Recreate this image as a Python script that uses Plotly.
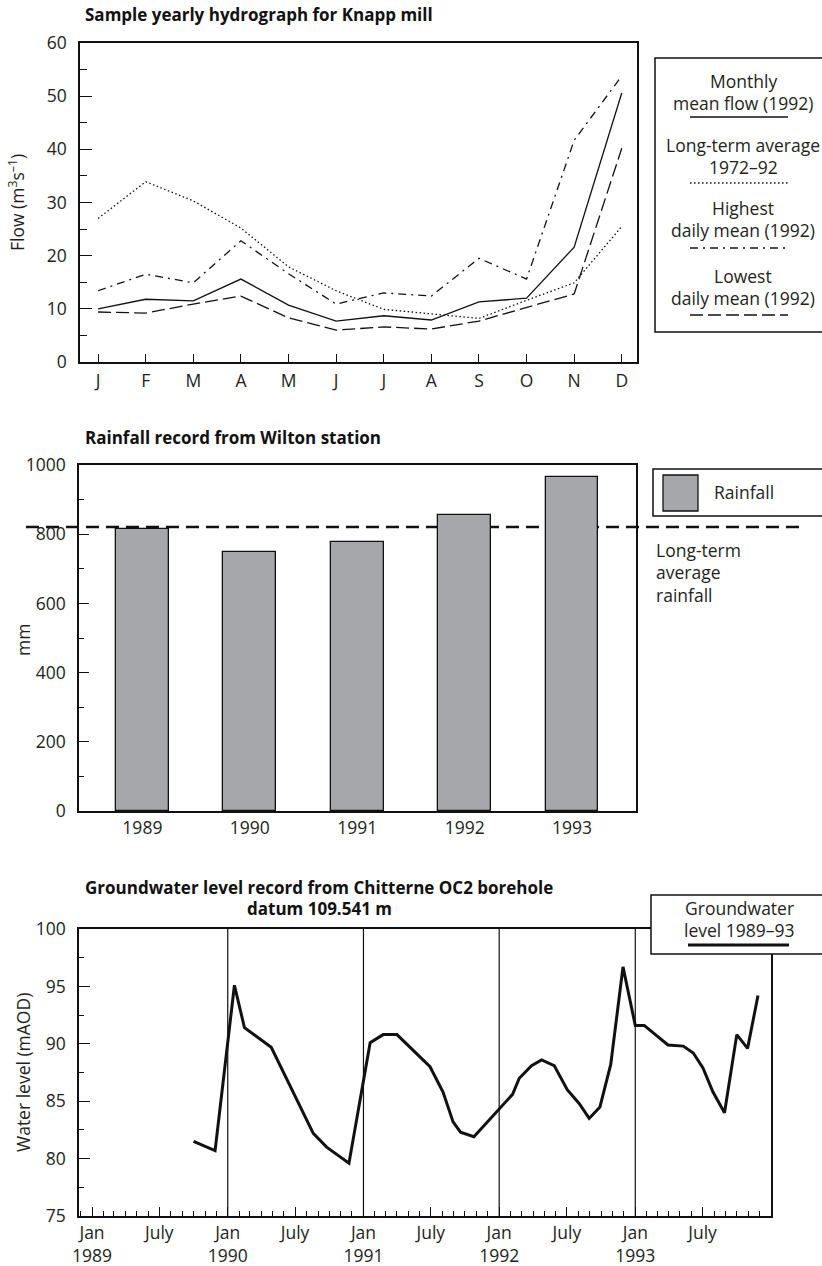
import plotly.graph_objects as go

W, H = 822, 1266
FONT = "Open Sans"
TXT = "#231f20"
FS = 17.5      # regular text size
FT = 17        # bold title size

def px(x):
    return x / W

def py(y):
    return 1 - y / H

# ---------------- data ----------------
months = ["J", "F", "M", "A", "M", "J", "J", "A", "S", "O", "N", "D"]
monthly_mean_1992 = [10.0, 11.8, 11.5, 15.6, 10.7, 7.7, 8.7, 7.9, 11.3, 12.0, 21.6, 50.6]
long_term_avg = [27.0, 33.9, 30.3, 25.2, 17.9, 13.4, 9.9, 9.0, 8.2, 11.6, 14.9, 25.5]
highest_daily = [13.4, 16.5, 14.9, 22.8, 16.6, 10.9, 13.0, 12.4, 19.5, 15.6, 41.7, 53.8]
lowest_daily = [9.4, 9.2, 10.9, 12.4, 8.3, 6.0, 6.6, 6.2, 7.7, 10.3, 12.8, 40.2]

rain_years = ["1989", "1990", "1991", "1992", "1993"]
rainfall_mm = [815, 749, 777, 855, 965]
rain_long_term_avg = 821

gw_dates = ["1989-10-01", "1989-11-28", "1990-01-19", "1990-02-15", "1990-04-28",
            "1990-08-19", "1990-09-24", "1990-11-23", "1991-01-19", "1991-02-23",
            "1991-04-01", "1991-06-29", "1991-08-03", "1991-08-30", "1991-09-19",
            "1991-10-25", "1992-02-06", "1992-02-24", "1992-03-28", "1992-04-24",
            "1992-05-28", "1992-07-02", "1992-08-03", "1992-08-30", "1992-09-28",
            "1992-10-27", "1992-11-29", "1993-01-01", "1993-01-25", "1993-03-30",
            "1993-05-10", "1993-06-06", "1993-07-02", "1993-07-29", "1993-08-29",
            "1993-10-01", "1993-10-30", "1993-11-27"]
gw_level = [81.5, 80.7, 95.1, 91.4, 89.7,
            82.2, 81.0, 79.6, 90.1, 90.8,
            90.8, 88.0, 85.8, 83.2, 82.3,
            81.9, 85.6, 87.0, 88.1, 88.6,
            88.1, 86.0, 84.8, 83.5, 84.5,
            88.2, 96.7, 91.6, 91.6, 89.9,
            89.8, 89.2, 87.9, 85.8, 84.0,
            90.8, 89.6, 94.2]
year_lines = ["1990-01-01", "1991-01-01", "1992-01-01", "1993-01-01"]
gw_years = [1989, 1990, 1991, 1992, 1993]

# ---------------- figure ----------------
fig = go.Figure()

# Chart 1 lines
fig.add_trace(go.Scatter(x=list(range(12)), y=monthly_mean_1992, mode="lines",
                         line=dict(color="#111", width=1.3), xaxis="x", yaxis="y",
                         name="Monthly mean flow (1992)"))
fig.add_trace(go.Scatter(x=list(range(12)), y=long_term_avg, mode="lines",
                         line=dict(color="#111", width=1.3, dash="1.5px,2.5px"),
                         xaxis="x", yaxis="y", name="Long-term average 1972–92"))
fig.add_trace(go.Scatter(x=list(range(12)), y=highest_daily, mode="lines",
                         line=dict(color="#111", width=1.3, dash="8px,5px,2px,5px"),
                         xaxis="x", yaxis="y", name="Highest daily mean (1992)"))
fig.add_trace(go.Scatter(x=list(range(12)), y=lowest_daily, mode="lines",
                         line=dict(color="#111", width=1.3, dash="13px,5px"),
                         xaxis="x", yaxis="y", name="Lowest daily mean (1992)"))

# Chart 2 bars
fig.add_trace(go.Bar(x=rain_years, y=rainfall_mm, width=0.49,
                     marker=dict(color="#a6a7aa", line=dict(color="#111", width=1.3)),
                     xaxis="x2", yaxis="y2", name="Rainfall"))

# Chart 3 line
fig.add_trace(go.Scatter(x=gw_dates, y=gw_level, mode="lines",
                         line=dict(color="#111", width=3), xaxis="x3", yaxis="y3",
                         name="Groundwater level 1989–93"))

axis_common = dict(showline=True, linecolor="#111", linewidth=1.5, mirror=True,
                   showgrid=False, zeroline=False, automargin=False,
                   tickfont=dict(family=FONT, size=FS, color=TXT),
                   tickcolor="#111")

# Chart 3 ticks: labelled Jan / July, unlabelled quarter ticks on an overlay axis
lab_vals, lab_text, q_vals = [], [], []
for yr in gw_years:
    lab_vals += [f"{yr}-01-01", f"{yr}-07-01"]
    lab_text += [f"Jan<br>{yr}", "July"]
    q_vals += [f"{yr}-04-01", f"{yr}-10-01"]

x3_range = ["1988-11-27", "1994-01-01"]

fig.update_layout(
    width=W, height=H,
    margin=dict(l=0, r=0, t=0, b=0),
    paper_bgcolor="white", plot_bgcolor="white",
    showlegend=False,
    font=dict(family=FONT, color=TXT),
    bargap=0,
    xaxis=dict(axis_common, domain=[px(80), px(637)], range=[-0.38, 11.32],
               tickmode="array", tickvals=list(range(12)), ticktext=months,
               ticks="inside", ticklen=8, tickwidth=1.3, anchor="y",
               ticklabelstandoff=2),
    yaxis=dict(axis_common, domain=[py(362), py(43)], range=[0, 60],
               dtick=10, ticks="inside", ticklen=12, tickwidth=1.3, anchor="x",
               ticklabelstandoff=8,
               minor=dict(dtick=5, ticks="inside", ticklen=7, tickwidth=1.3, tickcolor="#111")),
    xaxis2=dict(axis_common, domain=[px(79), px(636)], type="category",
                range=[-0.59, 4.595], ticks="", anchor="y2"),
    yaxis2=dict(axis_common, domain=[py(811), py(465)], range=[0, 1000],
                dtick=200, ticks="inside", ticklen=10, tickwidth=1.3, anchor="x2",
                ticklabelstandoff=8,
                minor=dict(dtick=100, ticks="inside", ticklen=5, tickwidth=1.3, tickcolor="#111")),
    xaxis3=dict(axis_common, domain=[px(79), px(771)], type="date",
                range=x3_range,
                tickmode="array", tickvals=lab_vals, ticktext=lab_text,
                ticks="inside", ticklen=9, tickwidth=1.3, anchor="y3",
                minor=dict(dtick="M1", tick0="1989-01-01", ticks="inside", ticklen=5,
                           tickwidth=1.3, tickcolor="#111")),
    xaxis4=dict(domain=[px(79), px(771)], type="date", range=x3_range,
                overlaying="x3", anchor="y3", side="bottom",
                tickmode="array", tickvals=q_vals, showticklabels=False,
                ticks="inside", ticklen=9, tickwidth=1.3, tickcolor="#111",
                showline=False, showgrid=False, zeroline=False, automargin=False),
    yaxis3=dict(axis_common, domain=[py(1216), py(929)], range=[75, 100],
                dtick=5, ticks="inside", ticklen=11, tickwidth=1.3, anchor="x3",
                ticklabelstandoff=8,
                minor=dict(dtick=2.5, ticks="inside", ticklen=5, tickwidth=1.3, tickcolor="#111")),
)

shapes = []
annots = []

def text(x, y, s, size=FS, bold=False, xanchor="center"):
    annots.append(dict(x=px(x), y=py(y), xref="paper", yref="paper", text=s,
                       showarrow=False, xanchor=xanchor, yanchor="middle",
                       font=dict(family=FONT, size=size, color="#111" if bold else TXT,
                                 weight="bold" if bold else "normal")))

def hline(x0, x1, y, dash="solid", width=1.3):
    shapes.append(dict(type="line", xref="paper", yref="paper", x0=px(x0), x1=px(x1),
                       y0=py(y), y1=py(y), line=dict(color="#111", width=width, dash=dash)))

def box(x0, y0, x1, y1, fill="white", width=1.5):
    shapes.append(dict(type="rect", xref="paper", yref="paper", x0=px(x0), x1=px(x1),
                       y0=py(y1), y1=py(y0), fillcolor=fill, line=dict(color="#111", width=width),
                       layer="above"))

# Titles
text(83, 14, "Sample yearly hydrograph for Knapp mill", size=FT, bold=True, xanchor="left")
text(83, 437, "Rainfall record from Wilton station", size=FT, bold=True, xanchor="left")
text(319, 887, "Groundwater level record from Chitterne OC2 borehole", size=FT, bold=True)
text(319, 908, "datum 109.541 m", size=FT, bold=True)

# Axis titles (rotated)
for x, y, s in [(17, 203, "Flow (m<sup>3</sup>s<sup>–1</sup>)"), (23, 640, "mm"),
                (23, 1073, "Water level (mAOD)")]:
    annots.append(dict(x=px(x), y=py(y), xref="paper", yref="paper", text=s, textangle=-90,
                       showarrow=False, xanchor="center", yanchor="middle",
                       font=dict(family=FONT, size=FS, color=TXT)))

# Chart 1 legend
box(655, 58, 832, 332)
text(743, 81, "Monthly")
text(743, 103, "mean flow (1992)")
hline(690, 788, 117)
text(743, 145, "Long-term average")
text(743, 167, "1972–92")
hline(690, 788, 183, dash="1.5px,2.5px")
text(743, 208, "Highest")
text(743, 230, "daily mean (1992)")
hline(690, 788, 248, dash="8px,5px,2px,5px")
text(743, 276, "Lowest")
text(743, 298, "daily mean (1992)")
hline(690, 788, 315, dash="13px,5px")

# Chart 2 legend + average line
box(653, 469, 832, 516)
box(663, 475, 698, 511, fill="#a6a7aa", width=1.3)
text(712, 492, "Rainfall", xanchor="left")
shapes.append(dict(type="line", xref="paper", yref="y2", x0=px(26), x1=px(805),
                   y0=rain_long_term_avg, y1=rain_long_term_avg,
                   line=dict(color="#111", width=2.5, dash="13px,7px"), layer="below"))
text(654, 550, "Long-term", xanchor="left")
text(654, 572, "average", xanchor="left")
text(654, 595, "rainfall", xanchor="left")

# Chart 3 year separator lines
for d in year_lines:
    shapes.append(dict(type="line", xref="x3", yref="y3 domain", x0=d, x1=d, y0=0, y1=1,
                       line=dict(color="#111", width=1.2), layer="below"))

# Chart 3 legend
box(651, 895, 832, 954)
text(739, 908, "Groundwater")
text(739, 930, "level 1989–93")
hline(688, 789, 945, width=3)

fig.update_layout(shapes=shapes, annotations=annots)
fig.write_html("out.html")
